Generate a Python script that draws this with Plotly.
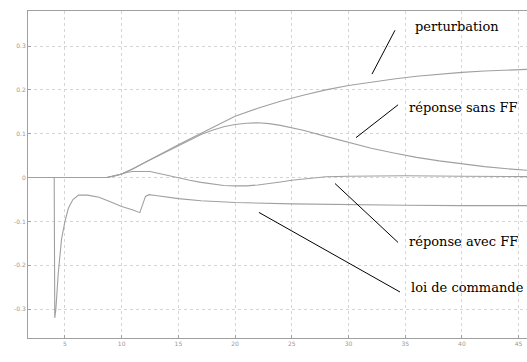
import plotly.graph_objects as go

# --- data ---
t_pert = [1.7, 8.7, 10, 11, 12, 13, 14, 15, 16, 17, 18, 19, 20, 22, 24, 26, 28, 30, 32, 34, 36, 38, 40, 42, 44, 46]
y_pert = [0, 0, 0.008, 0.02, 0.034, 0.048, 0.062, 0.075, 0.088, 0.101, 0.114, 0.127, 0.14, 0.158, 0.174, 0.188, 0.2, 0.21, 0.218, 0.225, 0.231, 0.236, 0.24, 0.243, 0.245, 0.247]

t_sans = [1.7, 8.7, 10, 11, 12, 13, 14, 15, 16, 17, 18, 19, 20, 21, 22, 23, 24, 25, 26, 28, 30, 32, 34, 36, 38, 40, 42, 44, 46]
y_sans = [0, 0, 0.008, 0.02, 0.034, 0.047, 0.06, 0.073, 0.086, 0.098, 0.108, 0.116, 0.121, 0.124, 0.125, 0.123, 0.119, 0.114, 0.108, 0.094, 0.08, 0.067, 0.056, 0.046, 0.038, 0.031, 0.025, 0.02, 0.016]

t_avec = [1.7, 8.7, 9.5, 10, 10.5, 11, 12, 12.5, 13, 14, 15, 16, 17, 18, 19, 20, 21, 22, 23, 24, 25, 26, 27, 28, 30, 32, 35, 40, 46]
y_avec = [0, 0, 0.004, 0.008, 0.012, 0.014, 0.015, 0.014, 0.011, 0.005, 0, -0.006, -0.011, -0.015, -0.018, -0.019, -0.019, -0.017, -0.014, -0.01, -0.006, -0.003, 0, 0.002, 0.003, 0.004, 0.004, 0.003, 0.002]

t_loi = [1.7, 4.05, 4.1, 4.2, 4.4, 4.7, 5.0, 5.3, 5.7, 6.2, 7.0, 8.0, 9.0, 10.0, 11.0, 11.6, 12.1, 12.4, 13, 14, 15, 17, 20, 25, 30, 35, 40, 46]
y_loi = [0, 0, -0.32, -0.3, -0.22, -0.14, -0.1, -0.07, -0.05, -0.04, -0.04, -0.045, -0.055, -0.066, -0.074, -0.08, -0.043, -0.039, -0.041, -0.045, -0.048, -0.053, -0.057, -0.06, -0.062, -0.063, -0.064, -0.064]

x_ticks = [5, 10, 15, 20, 25, 30, 35, 40, 45]
y_ticks = [-0.3, -0.2, -0.1, 0, 0.1, 0.2, 0.3]
y_tick_text = ["-0.3", "-0.2", "-0.1", "0", "0.1", "0.2", "0.3"]

labels = ["perturbation", "réponse sans FF", "réponse avec FF", "loi de commande"]
label_pos = [(35.7, 0.345), (35.2, 0.159), (35.2, -0.145), (35.3, -0.25)]
pointer_lines = [((32.07, 0.236), (34.1, 0.336)),
                 ((30.66, 0.091), (34.37, 0.166)),
                 ((28.81, -0.0136), (34.37, -0.148)),
                 ((22.1, -0.0795), (34.54, -0.261))]

curve_color = "#a0a0a0"

fig = go.Figure()
for tx, ty in [(t_pert, y_pert), (t_sans, y_sans), (t_avec, y_avec), (t_loi, y_loi)]:
    fig.add_trace(go.Scatter(x=tx, y=ty, mode="lines", line=dict(color=curve_color, width=1.1),
                             showlegend=False, hoverinfo="skip"))

for text, (lx, ly) in zip(labels, label_pos):
    fig.add_annotation(x=lx, y=ly, xref="x", yref="y", text=text, showarrow=False,
                       xanchor="left", yanchor="middle",
                       font=dict(family="DejaVu Serif", size=13, color="#000"))

for (a, b) in pointer_lines:
    fig.add_shape(type="line", xref="x", yref="y", x0=a[0], y0=a[1], x1=b[0], y1=b[1],
                  line=dict(color="#000", width=1))

fig.update_layout(
    width=527, height=362,
    margin=dict(l=28, r=0, t=11, b=24),
    paper_bgcolor="white", plot_bgcolor="white",
    xaxis=dict(range=[1.74, 45.74], tickvals=x_ticks, showgrid=True,
               gridcolor="#d4d4d4", griddash="dot", gridwidth=1,
               showline=True, linecolor="#a0a0a0", linewidth=1, mirror=True,
               ticks="inside", ticklen=3, tickcolor="#a0a0a0",
               tickfont=dict(family="DejaVu Sans", size=6, color="#999"), zeroline=False),
    yaxis=dict(range=[-0.366, 0.38], tickvals=y_ticks, ticktext=y_tick_text, showgrid=True,
               gridcolor="#d4d4d4", griddash="dot", gridwidth=1,
               showline=True, linecolor="#a0a0a0", linewidth=1,
               ticks="inside", ticklen=3, tickcolor="#a0a0a0",
               tickfont=dict(family="DejaVu Sans", size=6, color="#999"), zeroline=False),
)

fig.write_html("out.html", config={"displayModeBar": False},
               post_script="document.body.style.margin='0';document.body.style.overflow='hidden';")
